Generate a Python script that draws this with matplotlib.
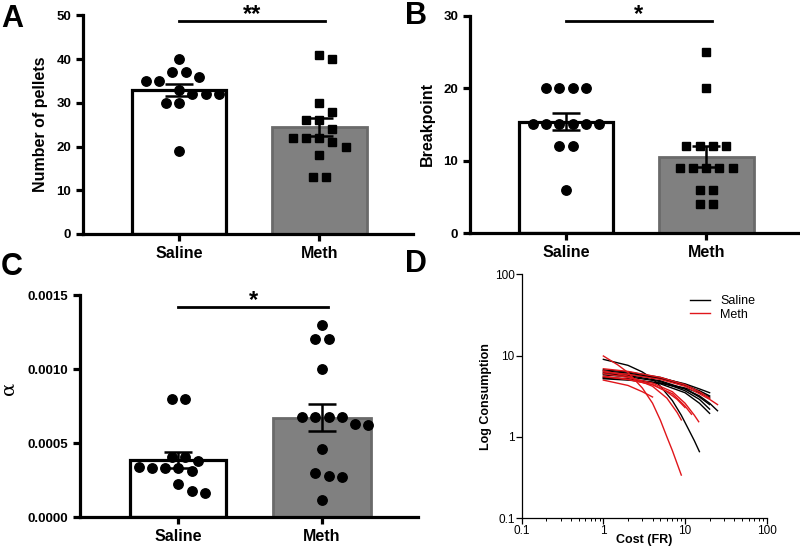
#!/usr/bin/env python3
# demand_figure.py

import numpy as np
import matplotlib
matplotlib.use("Agg")
import matplotlib.pyplot as plt
from matplotlib.ticker import FixedLocator, NullFormatter, FormatStrFormatter

plt.rcParams['font.family'] = ['Liberation Sans', 'DejaVu Sans']

W, H = 800, 547

groups = ["Saline", "Meth"]

# Panel A: number of pellets
pellets_saline = [40, 37, 37, 36, 35, 35, 33, 32, 32, 32, 30, 30, 19]
pellets_meth = [41, 40, 30, 28, 26, 26, 24, 22, 22, 22, 21, 20, 18, 13, 13]

# Panel B: breakpoint
bp_saline = [20, 20, 20, 20, 15, 15, 15, 15, 15, 15, 12, 12, 6]
bp_meth = [25, 20, 12, 12, 12, 12, 9, 9, 9, 9, 9, 6, 6, 4, 4]

# Panel C: alpha
alpha_saline = [0.00080, 0.00080, 0.00041, 0.00041, 0.00038, 0.00033, 0.00033,
                0.00033, 0.00034, 0.00031, 0.000225, 0.000166, 0.000177]
alpha_meth = [0.00130, 0.00120, 0.00120, 0.00100, 0.00068, 0.00068, 0.00068,
              0.00068, 0.00063, 0.00062, 0.00046, 0.00028, 0.00027, 0.00030,
              0.00012]

# Panel D: demand curves (cost, consumption)
saline_curves = [
    ([1, 2, 3, 4, 5, 7, 9, 11, 13, 15], [9.0, 7.6, 6.3, 5.2, 4.2, 2.8, 1.85, 1.25, 0.9, 0.66]),
    ([1, 2, 5, 10, 15, 20], [6.5, 6.1, 5.3, 4.5, 3.9, 3.5]),
    ([1, 2, 5, 10, 15, 20], [6.2, 5.9, 5.2, 4.3, 3.7, 3.2]),
    ([1, 2, 5, 10, 15, 20], [6.0, 5.7, 4.9, 3.9, 3.1, 2.5]),
    ([1, 2, 5, 10, 15, 20], [5.8, 5.5, 4.8, 3.7, 2.9, 2.2]),
    ([1, 2, 5, 10, 15, 20], [5.4, 5.2, 4.5, 3.5, 2.6, 1.95]),
    ([1, 2, 5, 10, 15, 20, 25], [5.3, 5.1, 4.6, 3.9, 3.2, 2.6, 2.1]),
    ([1, 2, 5, 10, 15, 20], [6.7, 6.3, 5.4, 4.4, 3.6, 3.0]),
    ([1, 2, 5, 10, 15, 20], [5.2, 5.0, 4.6, 4.0, 3.5, 3.1]),
]
meth_curves = [
    ([1, 1.5, 2, 3, 4, 5, 6, 7, 8, 9], [9.9, 7.7, 6.2, 4.0, 2.6, 1.6, 1.0, 0.68, 0.47, 0.34]),
    ([1, 2, 3, 4], [5.0, 4.3, 3.6, 3.1]),
    ([1, 2, 4, 6, 8, 9], [6.5, 5.6, 4.2, 3.0, 2.0, 1.62]),
    ([1, 2, 4, 7, 10, 13, 14.7], [6.0, 5.4, 4.6, 3.6, 2.6, 1.85, 1.54]),
    ([1, 2, 4, 7, 10, 12], [5.6, 5.1, 4.4, 3.4, 2.4, 1.9]),
    ([1, 2, 5, 10, 15, 20, 25], [6.3, 5.9, 5.1, 4.2, 3.4, 2.9, 2.5]),
    ([1, 2, 5, 10, 15, 20], [6.9, 6.4, 5.4, 4.4, 3.6, 3.0]),
    ([1, 2, 4, 6, 8, 10], [5.5, 5.1, 4.4, 3.6, 2.9, 2.3]),
]


def px_axes(fig, x0, y0, x1, y1):
    return fig.add_axes([x0 / W, 1 - y1 / H, (x1 - x0) / W, (y1 - y0) / H])


def swarm(ax, xc, values, spacing=13.3, diam=12.0, step=6.65):
    # rows of (nearly) equal values are centred, then shifted until they
    # don't collide with rows already placed
    tr = ax.transData
    values = np.asarray(values, dtype=float)
    pix = np.array([tr.transform((xc, v)) for v in values])
    cx = pix[0, 0]
    order = np.argsort(-values)
    rows = []
    for i in order:
        if rows and abs(pix[rows[-1][0], 1] - pix[i, 1]) < 3:
            rows[-1].append(i)
        else:
            rows.append([i])
    shifts = [0]
    for k in range(1, 12):
        shifts += [k * step, -k * step]
    placed = []
    xs = np.zeros(len(values))
    for row in rows:
        n = len(row)
        base = [(j - (n - 1) / 2) * spacing for j in range(n)]
        for s in shifts:
            ok = True
            for j, i in enumerate(row):
                px = cx + base[j] + s
                for qx, qy in placed:
                    if (px - qx) ** 2 + (pix[i, 1] - qy) ** 2 < diam ** 2:
                        ok = False
                        break
                if not ok:
                    break
            if ok:
                break
        for j, i in enumerate(row):
            px = cx + base[j] + s
            placed.append((px, pix[i, 1]))
            xs[i] = tr.inverted().transform((px, pix[i, 1]))[0]
    return xs


def bar_panel(ax, sal, meth, ylim, yticks, meth_marker, meth_ms, sig, sig_y, fmt=None):
    ax.set_xlim(-0.686, 1.67)
    ax.set_ylim(0, ylim)
    data = [np.array(sal), np.array(meth)]
    means = [d.mean() for d in data]
    sems = [d.std(ddof=1) / np.sqrt(len(d)) for d in data]

    ax.bar(0, means[0], width=0.67, color='white', edgecolor='black', linewidth=2.3, zorder=1)
    ax.bar(1, means[1], width=0.68, color='#808080', edgecolor='#6a6a6a', linewidth=2.0, zorder=1)

    xs = swarm(ax, 0, data[0])
    ax.plot(xs, data[0], 'o', color='black', ms=6.8, zorder=3, clip_on=False)
    xs = swarm(ax, 1, data[1])
    ax.plot(xs, data[1], meth_marker, color='black', ms=meth_ms, zorder=3, clip_on=False)

    ax.errorbar([0, 1], means, yerr=sems, fmt='none', ecolor='black', elinewidth=1.8,
                capsize=10, capthick=1.8, zorder=4)

    ax.plot([0, 1.04], [sig_y, sig_y], color='black', lw=2, clip_on=False)
    ax.text(0.52, sig_y, sig, ha='center', va='baseline', fontsize=17, fontweight='bold')

    for s in ['top', 'right']:
        ax.spines[s].set_visible(False)
    for s in ['left', 'bottom']:
        ax.spines[s].set_linewidth(2.3)
    ax.set_yticks(yticks)
    if fmt:
        ax.yaxis.set_major_formatter(FormatStrFormatter(fmt))
    ax.set_xticks([0, 1])
    ax.set_xticklabels(groups, fontsize=11.5, fontweight='bold')
    ax.tick_params(axis='both', width=2.3, length=5)
    ax.tick_params(axis='y', labelsize=9.5)
    for lab in ax.get_yticklabels():
        lab.set_fontweight('bold')


def main():
    fig = plt.figure(figsize=(W / 100, H / 100), dpi=100)

    # A
    ax = px_axes(fig, 83, 15.3, 413, 234)
    bar_panel(ax, pellets_saline, pellets_meth, 50, [0, 10, 20, 30, 40, 50], 's', 6.2, '**', 48.7)
    ax.set_ylabel("Number of pellets", fontsize=11.5, fontweight='bold', labelpad=6)

    # B
    ax = px_axes(fig, 470, 15.7, 800, 233)
    bar_panel(ax, bp_saline, bp_meth, 30, [0, 10, 20, 30], 's', 6.2, '*', 29.3)
    ax.set_ylabel("Breakpoint", fontsize=11.5, fontweight='bold', labelpad=6)

    # C
    ax = px_axes(fig, 80, 295, 418, 517.3)
    bar_panel(ax, alpha_saline, alpha_meth, 0.0015, [0, 0.0005, 0.0010, 0.0015], 'o', 6.8,
              '*', 0.00142, fmt='%.4f')
    ax.set_ylabel("\u03b1", fontsize=14, family=['DejaVu Serif'])
    ax.yaxis.set_label_coords(-0.186, 0.58)

    # D
    ax = px_axes(fig, 521.7, 274.3, 766.7, 518.3)
    ax.set_xscale('log')
    ax.set_yscale('log')
    for i, (c, q) in enumerate(saline_curves):
        ax.plot(c, q, color='black', lw=1.0, label='Saline' if i == 0 else None)
    for i, (c, q) in enumerate(meth_curves):
        ax.plot(c, q, color='#e0161b', lw=1.0, label='Meth' if i == 0 else None)
    ax.set_xlim(0.1, 100)
    ax.set_ylim(0.1, 100)
    ax.set_xticks([0.1, 1, 10, 100])
    ax.set_xticklabels(['0.1', '1', '10', '100'])
    ax.set_yticks([0.1, 1, 10, 100])
    ax.set_yticklabels(['0.1', '1', '10', '100'])
    ax.xaxis.set_minor_locator(FixedLocator(
        [m * 10.0 ** e for e in range(-1, 2) for m in range(2, 10)]))
    ax.xaxis.set_minor_formatter(NullFormatter())
    ax.yaxis.set_minor_locator(FixedLocator([]))
    ax.tick_params(axis='both', which='major', labelsize=8.5, length=4, width=0.9, pad=1)
    ax.tick_params(axis='x', which='minor', length=2, width=0.7)
    for s in ['top', 'right']:
        ax.spines[s].set_visible(False)
    for s in ['left', 'bottom']:
        ax.spines[s].set_linewidth(0.9)
    ax.set_xlabel("Cost (FR)", fontsize=9, fontweight='bold', labelpad=-2)
    ax.set_ylabel("Log Consumption", fontsize=9, fontweight='bold', labelpad=2)
    ax.legend(loc='upper right', bbox_to_anchor=(1.0, 0.96), frameon=False, fontsize=9,
              handlelength=1.6, handletextpad=0.8, labelspacing=0.1)

    # panel letters
    for txt, x, y in [("A", 12, 19), ("B", 416, 16), ("C", 12, 267), ("D", 416, 264)]:
        fig.text(x / W, 1 - y / H, txt, fontsize=22, fontweight='bold', ha='center', va='center')

    fig.savefig("out.png", dpi=100)


if __name__ == "__main__":
    main()
